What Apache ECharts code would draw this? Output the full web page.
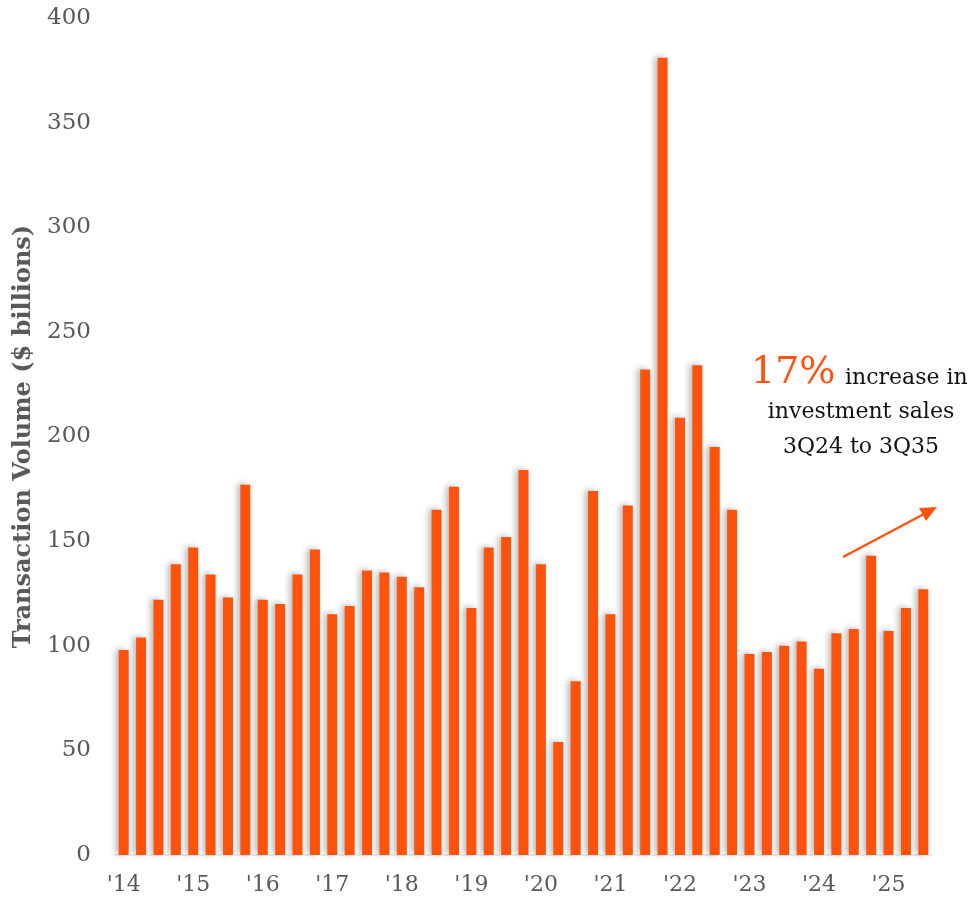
<!DOCTYPE html>
<html>
<head>
<meta charset="utf-8">
<script src="https://cdn.jsdelivr.net/npm/echarts@6/dist/echarts.min.js"></script>
<style>
html,body{margin:0;padding:0;background:#fff;}
#main{width:978px;height:906px;}
</style>
</head>
<body>
<div id="main"></div>
<script>
// quarters 1Q14 .. 3Q25
var years = ["'14","'15","'16","'17","'18","'19","'20","'21","'22","'23","'24","'25"];
var quarters = [];
for (var i = 0; i < years.length; i++) {
	for (var q = 1; q <= 4; q++) {
		if (i == years.length - 1 && q > 3) break;
		quarters.push(q + 'Q' + years[i]);
	}
}
var volumes = [
	98, 104, 122, 139,
	147, 134, 123, 177,
	122, 120, 134, 146,
	115, 119, 136, 135,
	133, 128, 165, 176,
	118, 147, 152, 184,
	139, 54, 83, 174,
	115, 167, 232, 381,
	209, 234, 195, 165,
	96, 97, 100, 102,
	89, 106, 108, 143,
	107, 118, 127
];

var orange = '#FF530D';
var grey = '#595959';
var serif = "Georgia, 'DejaVu Serif', serif";

var myChart = echarts.init(document.getElementById('main'));

var option = {
	animation: false,
	grid: {left: 115, right: 46, top: 18, bottom: 51},
	xAxis: {
		type: 'category',
		data: quarters,
		axisLine: {show: true, lineStyle: {color: '#ececec', width: 2}},
		axisTick: {show: false},
		axisLabel: {
			interval: 3,
			margin: 19,
			color: grey,
			fontFamily: serif,
			fontSize: 22,
			formatter: function (v) { return v.slice(2); }
		}
	},
	yAxis: {
		type: 'value',
		min: 0,
		max: 400,
		interval: 50,
		name: 'Transaction Volume ($ billions)',
		nameLocation: 'middle',
		nameGap: 77,
		nameTextStyle: {color: grey, fontFamily: serif, fontWeight: 'bold', fontSize: 24},
		splitLine: {show: false},
		axisLine: {show: false},
		axisTick: {show: false},
		axisLabel: {color: grey, fontFamily: serif, fontSize: 23, margin: 24}
	},
	series: [{
		type: 'bar',
		data: volumes,
		barWidth: 10,
		itemStyle: {
			color: orange,
			shadowColor: 'rgba(0,0,0,0.28)',
			shadowBlur: 6,
			shadowOffsetX: -3,
			shadowOffsetY: -1
		}
	}],
	graphic: [
		{type: 'text', x: 751, y: 373,
			style: {text: '17%', fill: orange, font: "38px " + serif, textVerticalAlign: 'middle'}},
		{type: 'text', x: 845, y: 378,
			style: {text: 'increase in', fill: '#111', font: "22px " + serif, textVerticalAlign: 'middle'}},
		{type: 'text', x: 861, y: 412,
			style: {text: 'investment sales', fill: '#111', font: "22px " + serif, textAlign: 'center', textVerticalAlign: 'middle'}},
		{type: 'text', x: 861, y: 447,
			style: {text: '3Q24 to 3Q35', fill: '#111', font: "22px " + serif, textAlign: 'center', textVerticalAlign: 'middle'}},
		{type: 'line', shape: {x1: 843, y1: 557, x2: 924, y2: 514},
			style: {stroke: orange, lineWidth: 2.5}},
		{type: 'polygon', shape: {points: [[937, 507], [919, 508], [926, 521]]},
			style: {fill: orange}}
	]
};

myChart.setOption(option);
</script>
</body>
</html>
